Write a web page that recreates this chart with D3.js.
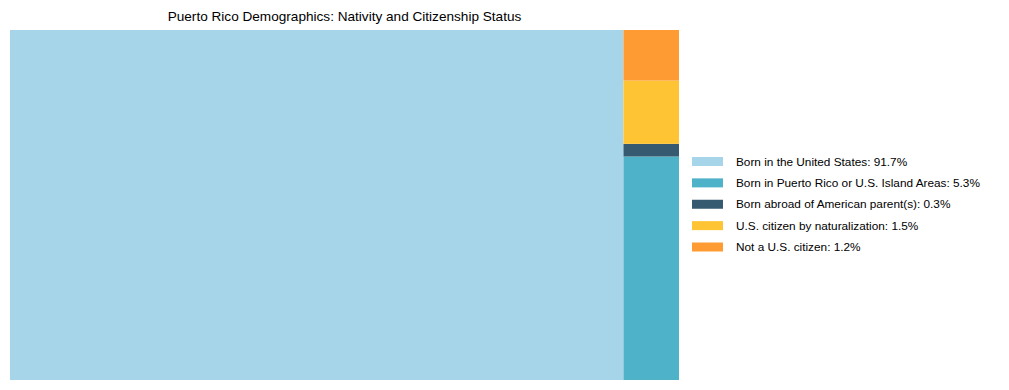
<!DOCTYPE html>
<html>
<head>
<meta charset="utf-8">
<script src="https://cdn.jsdelivr.net/npm/d3@7"></script>
<style>
  body { margin: 0; background: #fff; }
  text { font-family: "Liberation Sans", Arial, sans-serif; fill: #000; }
</style>
</head>
<body>
<div id="chart"></div>
<script>
var categories = ["Born in the United States", "Born in Puerto Rico or U.S. Island Areas",
                  "Born abroad of American parent(s)", "U.S. citizen by naturalization", "Not a U.S. citizen"]
var percents = [91.7, 5.3, 0.3, 1.5, 1.2]
var colors = ["#a6d5ea", "#4eb2c9", "#365a6f", "#ffc434", "#fe9c33"]
var title = "Puerto Rico Demographics: Nativity and Citizenship Status"

var W = 1009, H = 390
var plot = {x0: 10, y0: 30, x1: 679, y1: 380}

var svg = d3.select("#chart").append("svg")
  .attr("width", W).attr("height", H)

var root = d3.hierarchy({children: categories.map(function(c, i){
    return {name: c, value: percents[i], color: colors[i]}
  })})
  .sum(function(d){ return d.value || 0 })

d3.treemap()
  .tile(d3.treemapSquarify.ratio(1))
  .size([plot.x1 - plot.x0, plot.y1 - plot.y0])(root)

// squarify lays out from the top, the reference stacks from the bottom -> flip y
var h = plot.y1 - plot.y0
svg.append("g")
  .attr("transform", "translate(" + plot.x0 + "," + plot.y0 + ")")
  .selectAll("rect")
  .data(root.leaves())
  .join("rect")
    .attr("x", function(d){ return d.x0 })
    .attr("y", function(d){ return h - d.y1 })
    .attr("width", function(d){ return d.x1 - d.x0 })
    .attr("height", function(d){ return d.y1 - d.y0 })
    .attr("fill", function(d){ return d.data.color })

svg.append("text")
  .attr("x", (plot.x0 + plot.x1) / 2)
  .attr("y", 21)
  .attr("text-anchor", "middle")
  .style("font-size", "13.6px")
  .text(title)

var ly = d3.scalePoint().domain(categories).range([161.5, 247]).padding(0)
var legend = svg.append("g")
legend.selectAll("rect")
  .data(categories)
  .join("rect")
    .attr("x", 692).attr("y", function(d){ return ly(d) - 4.5 })
    .attr("width", 31).attr("height", 9)
    .attr("fill", function(d, i){ return colors[i] })
legend.selectAll("text")
  .data(categories)
  .join("text")
    .attr("x", 736).attr("y", function(d){ return ly(d) })
    .attr("dy", "0.35em")
    .style("font-size", "11.8px")
    .text(function(d, i){ return d + ": " + percents[i] + "%" })
</script>
</body>
</html>
